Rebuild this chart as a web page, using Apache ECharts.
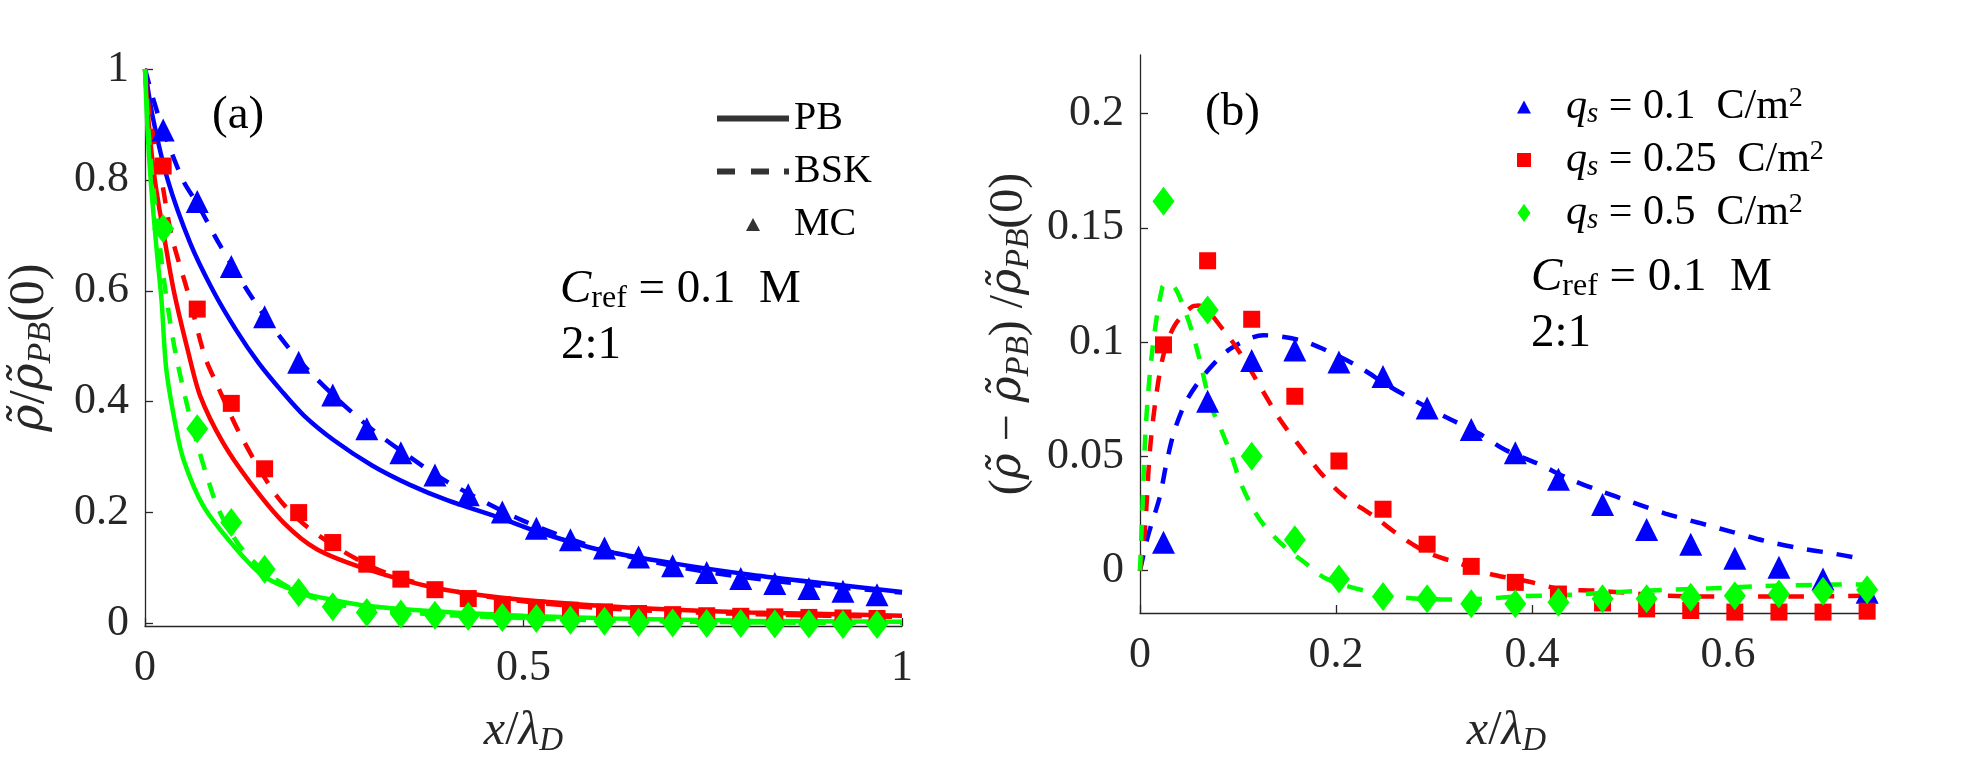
<!DOCTYPE html>
<html>
<head>
<meta charset="utf-8">
<script src="https://cdn.jsdelivr.net/npm/echarts@6/dist/echarts.min.js"></script>
<style>
  html, body { margin: 0; padding: 0; background: #fff; }
  #chart { width: 1966px; height: 763px; }
</style>
</head>
<body>
<div id="chart"></div>
<script>
const FONT = 'Liberation Serif'
const AXC = '#262626'
const BLUE = '#0000ff', RED = '#ff0000', GREEN = '#00ff00'

// MC sample positions x/lambda_D (panel b uses the first 17)
const xMC = [0.024, 0.069, 0.114, 0.158, 0.203, 0.248, 0.293, 0.338, 0.383, 0.427, 0.472,
  0.517, 0.562, 0.607, 0.652, 0.697, 0.742, 0.787, 0.832, 0.877, 0.922, 0.967]

// ---- panel (a): rho / rho_PB(0)
const mcA01 = [0.89, 0.761, 0.644, 0.553, 0.471, 0.412, 0.351, 0.308, 0.268, 0.232, 0.201,
  0.172, 0.151, 0.136, 0.120, 0.104, 0.092, 0.081, 0.072, 0.063, 0.058, 0.052]
const mcA025 = [0.825, 0.567, 0.397, 0.279, 0.200, 0.146, 0.107, 0.080, 0.061, 0.045, 0.034,
  0.028, 0.024, 0.021, 0.018, 0.016, 0.014, 0.013, 0.012, 0.011, 0.010, 0.009]
const mcA05 = [0.712, 0.351, 0.182, 0.098, 0.056, 0.030, 0.020, 0.017, 0.015, 0.013, 0.011,
  0.009, 0.006, 0.004, 0.002, 0.001, 0.0, 0.0, -0.001, -0.001, -0.002, -0.002]

const pbA01X = [0, 0.01, 0.03, 0.06, 0.09, 0.12, 0.15, 0.18, 0.21, 0.25, 0.3, 0.35, 0.4, 0.47, 0.52, 0.6, 0.7, 0.8, 0.9, 1.0]
const pbA01Y = [1, 0.915, 0.8, 0.685, 0.6, 0.53, 0.47, 0.42, 0.375, 0.33, 0.285, 0.25, 0.222, 0.19, 0.165, 0.133, 0.108, 0.088, 0.072, 0.057]
const pbA025X = [0, 0.005, 0.013, 0.025, 0.038, 0.057, 0.073, 0.103, 0.139, 0.183, 0.227, 0.293, 0.381, 0.469, 0.6, 0.7, 0.8, 0.9, 1.0]
const pbA025Y = [1, 0.9, 0.8, 0.7, 0.6, 0.49, 0.41, 0.326, 0.254, 0.182, 0.134, 0.098, 0.065, 0.047, 0.032, 0.025, 0.02, 0.017, 0.014]
const pbA05X = [0, 0.003, 0.0075, 0.015, 0.022, 0.028, 0.04, 0.051, 0.077, 0.117, 0.156, 0.205, 0.25, 0.293, 0.381, 0.5, 0.621, 0.8, 1.0]
const pbA05Y = [1, 0.9, 0.8, 0.68, 0.58, 0.46, 0.36, 0.295, 0.212, 0.14, 0.086, 0.056, 0.042, 0.032, 0.022, 0.014, 0.009, 0.005, 0.003]

const bskA01X = [0, 0.01, 0.024, 0.05, 0.07, 0.1, 0.15, 0.2, 0.25, 0.3, 0.35, 0.4, 0.5, 0.6, 0.7, 0.8, 0.9, 1.0]
const bskA01Y = [1, 0.95, 0.89, 0.8, 0.755, 0.68, 0.57, 0.48, 0.41, 0.35, 0.3, 0.255, 0.185, 0.135, 0.103, 0.082, 0.067, 0.056]
const bskA025X = [0, 0.005, 0.012, 0.022, 0.035, 0.056, 0.079, 0.095, 0.128, 0.174, 0.21, 0.25, 0.3, 0.35, 0.4, 0.5, 0.6, 0.7, 0.8, 0.9, 1.0]
const bskA025Y = [1, 0.93, 0.87, 0.8, 0.7, 0.6, 0.482, 0.431, 0.335, 0.23, 0.179, 0.14, 0.102, 0.077, 0.06, 0.04, 0.028, 0.021, 0.017, 0.014, 0.012]
const bskA05X = [0, 0.004, 0.01, 0.018, 0.027, 0.04, 0.057, 0.071, 0.082, 0.097, 0.125, 0.157, 0.2, 0.25, 0.3, 0.4, 0.5, 0.6, 0.8, 1.0]
const bskA05Y = [1, 0.9, 0.8, 0.7, 0.6, 0.49, 0.386, 0.314, 0.265, 0.206, 0.14, 0.095, 0.058, 0.036, 0.025, 0.015, 0.01, 0.006, 0.002, 0.001]

// ---- panel (b): (rho - rho_PB) / rho_PB(0)
const mcB01 = [0.0124, 0.0741, 0.092, 0.0966, 0.0913, 0.085, 0.0712, 0.0618, 0.0516, 0.040, 0.029,
  0.018, 0.0116, 0.0055, 0.0015, -0.0036, -0.0094]
const mcB025 = [0.0988, 0.1356, 0.110, 0.0763, 0.048, 0.0269, 0.0116, 0.0019, -0.0051, -0.0102, -0.0141,
  -0.0167, -0.0174, -0.0181, -0.0181, -0.0181, -0.0177]
const mcB05 = [0.1616, 0.114, 0.0501, 0.0135, -0.0036, -0.0113, -0.0123, -0.0145, -0.0145, -0.0138, -0.0123,
  -0.0123, -0.0116, -0.0109, -0.0102, -0.009, -0.0083]

const bskB01X = [0, 0.008, 0.02, 0.027, 0.035, 0.047, 0.066, 0.092, 0.126, 0.162, 0.192, 0.224, 0.253, 0.282,
  0.313, 0.346, 0.372, 0.405, 0.439, 0.469, 0.502, 0.536, 0.57, 0.604, 0.638, 0.671, 0.706, 0.74]
const bskB01Y = [0, 0.015, 0.032, 0.047, 0.061, 0.074, 0.086, 0.097, 0.103, 0.101, 0.096, 0.089, 0.081, 0.074,
  0.067, 0.06, 0.053, 0.047, 0.040, 0.035, 0.030, 0.025, 0.021, 0.017, 0.013, 0.010, 0.0076, 0.005]
const bskB025X = [0, 0.005, 0.01, 0.016, 0.024, 0.035, 0.053, 0.06, 0.085, 0.104, 0.122, 0.143, 0.163, 0.184,
  0.207, 0.238, 0.265, 0.293, 0.327, 0.357, 0.395, 0.429, 0.463, 0.498, 0.532, 0.6, 0.671, 0.74]
const bskB025Y = [0, 0.018, 0.052, 0.075, 0.0945, 0.107, 0.1155, 0.116, 0.1054, 0.094, 0.081, 0.066, 0.0545, 0.043,
  0.033, 0.024, 0.0153, 0.008, 0.003, -0.0014, -0.0046, -0.008, -0.0087, -0.0097, -0.0109, -0.0113, -0.0113, -0.011]
const bskB05X = [0, 0.003, 0.006, 0.0126, 0.0228, 0.029, 0.0374, 0.051, 0.0605, 0.072, 0.0827, 0.0935, 0.104,
  0.122, 0.1446, 0.17, 0.1905, 0.2364, 0.2857, 0.33, 0.388, 0.442, 0.512, 0.583, 0.633, 0.687, 0.745]
const bskB05Y = [0, 0.033, 0.064, 0.0966, 0.124, 0.1258, 0.1225, 0.1075, 0.093, 0.0727, 0.0618, 0.0501, 0.037,
  0.0225, 0.0116, 0.0029, -0.0036, -0.0094, -0.0123, -0.0126, -0.0112, -0.0105, -0.0088, -0.0077, -0.0068, -0.0062, -0.006]

// tick labels
const ticksAx = [0, 0.5, 1]
const ticksAy = [0, 0.2, 0.4, 0.6, 0.8, 1]
const ticksBx = [0, 0.2, 0.4, 0.6]
const ticksBy = [0, 0.05, 0.1, 0.15, 0.2]

const zip = (xs, ys) => xs.map((x, i) => [x, ys[i]])

function lineSeries(name, g, xs, ys, color, dashed) {
  return {
    type: 'line', name, xAxisIndex: g, yAxisIndex: g,
    data: zip(xs, ys), symbol: 'none', showSymbol: false, smooth: 0.3,
    lineStyle: { color, width: 4.5, type: dashed ? [16, 14] : 'solid', cap: 'butt' },
    silent: true, z: 2
  }
}
function mcSeries(name, g, ys, color, symbol, size) {
  return {
    type: 'scatter', name, xAxisIndex: g, yAxisIndex: g,
    data: zip(xMC.slice(0, ys.length), ys),
    symbol, symbolSize: size, itemStyle: { color, opacity: 1 },
    silent: true, z: 2
  }
}

const TRI = 23, SQ = 17, DIA = [22, 29]

const series = [
  // panel a
  lineSeries('a pb 0.1', 0, pbA01X, pbA01Y, BLUE, false),
  lineSeries('a bsk 0.1', 0, bskA01X, bskA01Y, BLUE, true),
  mcSeries('a mc 0.1', 0, mcA01, BLUE, 'triangle', TRI),
  lineSeries('a pb 0.25', 0, pbA025X, pbA025Y, RED, false),
  lineSeries('a bsk 0.25', 0, bskA025X, bskA025Y, RED, true),
  mcSeries('a mc 0.25', 0, mcA025, RED, 'rect', SQ),
  lineSeries('a pb 0.5', 0, pbA05X, pbA05Y, GREEN, false),
  lineSeries('a bsk 0.5', 0, bskA05X, bskA05Y, GREEN, true),
  mcSeries('a mc 0.5', 0, mcA05, GREEN, 'diamond', DIA),
  // legend-only entries for panel a
  { type: 'scatter', name: 'PB', xAxisIndex: 0, yAxisIndex: 0, data: [], itemStyle: { color: '#000' } },
  { type: 'scatter', name: 'BSK', xAxisIndex: 0, yAxisIndex: 0, data: [], itemStyle: { color: '#000' } },
  { type: 'scatter', name: 'MC', xAxisIndex: 0, yAxisIndex: 0, data: [], itemStyle: { color: '#000' } },
  // panel b
  lineSeries('b bsk 0.1', 1, bskB01X, bskB01Y, BLUE, true),
  mcSeries('q01', 1, mcB01, BLUE, 'triangle', TRI),
  lineSeries('b bsk 0.25', 1, bskB025X, bskB025Y, RED, true),
  mcSeries('q025', 1, mcB025, RED, 'rect', SQ),
  lineSeries('b bsk 0.5', 1, bskB05X, bskB05Y, GREEN, true),
  mcSeries('q05', 1, mcB05, GREEN, 'diamond', DIA)
]

const tickLbl = { fontFamily: FONT, fontSize: 44, color: AXC }
function nameRich(fs) {
  return {
    n: { fontFamily: FONT, fontSize: fs, color: AXC, lineHeight: fs + 6 },
    i: { fontFamily: FONT, fontSize: fs, fontStyle: 'italic', color: AXC, lineHeight: fs + 6 },
    r: { fontFamily: 'DejaVu Serif', fontSize: fs - 4, fontStyle: 'italic', color: AXC, lineHeight: fs + 6 },
    sub: { fontFamily: FONT, fontSize: Math.round(fs * 0.68), fontStyle: 'italic', color: AXC, lineHeight: Math.round(fs * 0.68), verticalAlign: 'bottom' }
  }
}

function xAxisOf(g, max, ticks, gap) {
  return {
    gridIndex: g, type: 'value', min: 0, max,
    name: '{i|x}{n|/}{i|λ}{sub|D}', nameLocation: 'middle', nameGap: gap,
    nameTextStyle: { rich: nameRich(48) },
    axisLine: { show: true, onZero: false, lineStyle: { color: AXC, width: 1.3 } },
    axisTick: { show: true, inside: true, length: 8, customValues: ticks, lineStyle: { color: AXC, width: 1.3 } },
    axisLabel: { customValues: ticks, margin: 20, ...tickLbl },
    splitLine: { show: false }
  }
}
function yAxisOf(g, min, max, ticks, name, gap, fs) {
  return {
    gridIndex: g, type: 'value', min, max,
    name, nameLocation: 'middle', nameGap: gap, nameRotate: 90,
    nameTextStyle: { rich: nameRich(fs) },
    axisLine: { show: true, onZero: false, lineStyle: { color: AXC, width: 1.3 } },
    axisTick: { show: true, inside: true, length: 8, customValues: ticks, lineStyle: { color: AXC, width: 1.3 } },
    axisLabel: { customValues: ticks, margin: 16, ...tickLbl },
    splitLine: { show: false }
  }
}

const legendBText = {
  q01: '{q|q}{s|s}{t| = 0.1  C/m}{p|2}',
  q025: '{q|q}{s|s}{t| = 0.25  C/m}{p|2}',
  q05: '{q|q}{s|s}{t| = 0.5  C/m}{p|2}'
}

const annRich = {
  n: { fontFamily: FONT, fontSize: 47, fill: '#000', lineHeight: 50 },
  i: { fontFamily: FONT, fontSize: 47, fontStyle: 'italic', fill: '#000', lineHeight: 50 },
  sub: { fontFamily: FONT, fontSize: 32, fill: '#000', lineHeight: 32, verticalAlign: 'bottom' }
}
function note(x, y, text) {
  return { type: 'text', x, y, silent: true,
    style: { text, rich: annRich, textAlign: 'left', textVerticalAlign: 'middle', fill: '#000', font: '47px ' + FONT } }
}

const chart = echarts.init(document.getElementById('chart'))
chart.setOption({
  animation: false,
  backgroundColor: '#fff',
  grid: [
    { left: 145, top: 69, width: 757, height: 558 },
    { left: 1140, top: 55, width: 733, height: 559 }
  ],
  xAxis: [xAxisOf(0, 1, ticksAx, 78), xAxisOf(1, 0.748, ticksBx, 91)],
  yAxis: [
    yAxisOf(0, -0.0045, 1, ticksAy, '{r|ρ̃}{n|/}{r|ρ̃}{sub|PB}{n|(0)}', 87, 50),
    yAxisOf(1, -0.0185, 0.2256, ticksBy, '{n|(}{r|ρ̃}{n| − }{r|ρ̃}{sub|PB}{n|) /}{r|ρ̃}{sub|PB}{n|(0)}', 104, 48)
  ],
  legend: [
    {
      orient: 'vertical', left: 712, top: 93, itemWidth: 72, itemHeight: 13, itemGap: 12,
      selectedMode: false,
      data: [
        { name: 'PB', icon: 'path://M0,0h72v6h-72z' },
        { name: 'BSK', icon: 'path://M0,0h18v6h-18zM34,0h18v6h-18zM67,0h5v6h-5z' },
        { name: 'MC', icon: 'path://M7,0L14,13L0,13Z' }
      ],
      textStyle: { fontFamily: FONT, fontSize: 40, color: '#000', lineHeight: 41 }
    },
    {
      orient: 'vertical', left: 1512, top: 80, itemWidth: 14, itemHeight: 18, itemGap: 9,
      selectedMode: false,
      data: [
        { name: 'q01', icon: 'path://M7,0L14,13L0,13Z' },
        { name: 'q025', icon: 'path://M0,0h11v11h-11z' },
        { name: 'q05', icon: 'path://M6.5,0L13,9L6.5,18L0,9Z' }
      ],
      formatter: name => legendBText[name],
      textStyle: {
        color: '#000',
        rich: {
          q: { fontFamily: FONT, fontSize: 42, fontStyle: 'italic', color: '#000', lineHeight: 44, padding: [0, 0, 0, 30] },
          s: { fontFamily: FONT, fontSize: 29, fontStyle: 'italic', color: '#000', lineHeight: 29, verticalAlign: 'bottom' },
          t: { fontFamily: FONT, fontSize: 42, color: '#000', lineHeight: 44 },
          p: { fontFamily: FONT, fontSize: 28, color: '#000', lineHeight: 28, verticalAlign: 'top' }
        }
      }
    }
  ],
  graphic: [
    note(212, 116, '{n|(a)}'),
    note(560, 290, '{i|C}{sub|ref}{n| = 0.1  M}'),
    note(561, 346, '{n|2:1}'),
    note(1205, 113, '{n|(b)}'),
    note(1531, 278, '{i|C}{sub|ref}{n| = 0.1  M}'),
    note(1531, 334, '{n|2:1}')
  ],
  series
})
</script>
</body>
</html>
